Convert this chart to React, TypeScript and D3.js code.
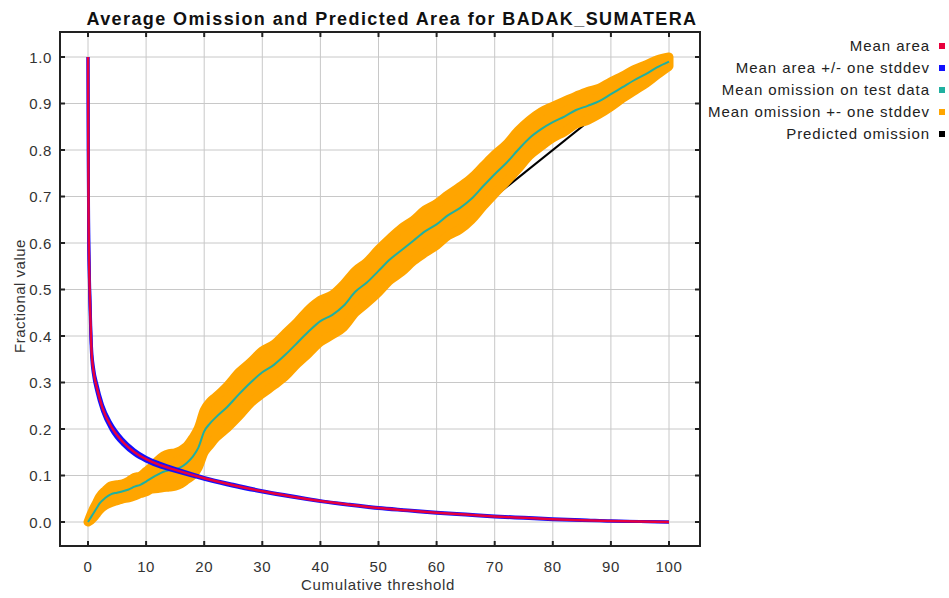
import * as d3 from "d3";

const title = "Average Omission and Predicted Area for BADAK_SUMATERA";

// mean fractional predicted area vs cumulative threshold
const areaThresholds = [0, 0.05, 0.1, 0.2, 0.35, 0.6, 1, 1.5, 2.5, 4, 6, 8, 10, 12.5, 15, 20, 25, 30, 35, 40, 45, 50, 55, 60, 65, 70, 75, 80, 85, 90, 95, 100];
const areaMean = [1.0, 0.8, 0.65, 0.55, 0.47, 0.37, 0.32, 0.29, 0.245, 0.205, 0.172, 0.15, 0.135, 0.122, 0.112, 0.094, 0.079, 0.066, 0.055, 0.045, 0.037, 0.03, 0.025, 0.02, 0.016, 0.012, 0.009, 0.006, 0.004, 0.002, 0.001, 0];
const areaSd = [0, 0.004, 0.006, 0.008, 0.009, 0.009, 0.008, 0.008, 0.007, 0.007, 0.006, 0.005, 0.004, 0.004, 0.003, 0.002, 0.002, 0.0015, 0.0015, 0.001, 0.001, 0.001, 0.001, 0.001, 0.001, 0.001, 0.001, 0.001, 0.001, 0, 0, 0];

// mean omission on test data
const omissionThresholds = [0, 0.5, 1, 1.5, 2, 3, 4, 5, 6, 7, 8, 9, 10, 11, 12, 13, 14, 15, 16, 17, 18, 19, 20, 21, 22, 24, 26, 28, 30, 32, 34, 36, 38, 40, 42, 44, 46, 48, 50, 52, 54, 56, 58, 60, 62, 64, 66, 68, 70, 72, 74, 76, 78, 80, 82, 84, 86, 88, 90, 92, 94, 96, 98, 100];
const omissionMean = [0, 0.01, 0.02, 0.03, 0.04, 0.052, 0.06, 0.063, 0.066, 0.07, 0.076, 0.08, 0.087, 0.095, 0.102, 0.108, 0.111, 0.113, 0.118, 0.127, 0.14, 0.16, 0.195, 0.212, 0.225, 0.248, 0.275, 0.3, 0.322, 0.338, 0.36, 0.385, 0.41, 0.432, 0.445, 0.465, 0.495, 0.515, 0.54, 0.565, 0.585, 0.605, 0.625, 0.64, 0.66, 0.675, 0.695, 0.722, 0.748, 0.772, 0.8, 0.826, 0.845, 0.86, 0.872, 0.886, 0.895, 0.905, 0.92, 0.935, 0.95, 0.963, 0.978, 0.99];
const omissionSd = [0, 0.006, 0.01, 0.012, 0.014, 0.016, 0.018, 0.017, 0.016, 0.018, 0.02, 0.019, 0.022, 0.024, 0.03, 0.034, 0.036, 0.036, 0.036, 0.036, 0.04, 0.042, 0.045, 0.046, 0.044, 0.045, 0.047, 0.044, 0.046, 0.044, 0.046, 0.045, 0.047, 0.045, 0.043, 0.046, 0.045, 0.044, 0.046, 0.045, 0.047, 0.044, 0.046, 0.045, 0.044, 0.046, 0.045, 0.043, 0.042, 0.04, 0.041, 0.038, 0.037, 0.034, 0.033, 0.03, 0.031, 0.028, 0.027, 0.024, 0.023, 0.02, 0.016, 0.01];

const predictedX = [0, 100];
const predictedY = [0, 1];

const xTicks = [0, 10, 20, 30, 40, 50, 60, 70, 80, 90, 100];
const yTicks = [0, 0.1, 0.2, 0.3, 0.4, 0.5, 0.6, 0.7, 0.8, 0.9, 1.0];

const legendLabels = ["Mean area", "Mean area +/- one stddev", "Mean omission on test data", "Mean omission +- one stddev", "Predicted omission"];
const legendColors = ["#e8003c", "#1010ff", "#20b0a0", "#ffa500", "#000000"];

const font = "'Liberation Sans', Arial, sans-serif";

const App = () => {
  const left = 60, right = 700, top = 32, bottom = 546;

  const x = d3.scaleLinear().domain([0, 100]).range([88, 669]);
  const y = d3.scaleLinear().domain([0, 1]).range([522, 57]);

  const area = areaThresholds.map((t, i) => ({ t, m: areaMean[i], s: areaSd[i] }));
  const omission = omissionThresholds.map((t, i) => ({ t, m: omissionMean[i], s: omissionSd[i] }));
  const predicted = predictedX.map((t, i) => ({ t, m: predictedY[i] }));

  const line = d3.line<any>().x((d) => x(d.t)).y((d) => y(d.m)).curve(d3.curveMonotoneX);
  const upper = d3.line<any>().x((d) => x(d.t)).y((d) => y(d.m + d.s)).curve(d3.curveMonotoneX);
  const lower = d3.line<any>().x((d) => x(d.t)).y((d) => y(Math.max(0, d.m - d.s))).curve(d3.curveMonotoneX);
  const band = d3.area<any>()
    .x((d) => x(d.t))
    .y0((d) => y(d.m - d.s))
    .y1((d) => y(d.m + d.s))
    .curve(d3.curveMonotoneX);

  return (
    <svg width={949} height={598} style={{ position: "absolute", left: 0, top: 0, background: "#fff" }} fontFamily={font}>
      <rect x={0} y={0} width={949} height={598} fill="#fff" />

      {/* grid */}
      {xTicks.map((t) => (
        <line key={"gx" + t} x1={x(t)} x2={x(t)} y1={top} y2={bottom} stroke="#c8c8c8" strokeWidth={1} />
      ))}
      {yTicks.map((t) => (
        <line key={"gy" + t} x1={left} x2={right} y1={y(t)} y2={y(t)} stroke="#c8c8c8" strokeWidth={1} />
      ))}

      {/* predicted omission */}
      <path d={line(predicted) || ""} fill="none" stroke="#000" strokeWidth={2} />

      {/* omission band */}
      <path d={band(omission) || ""} fill="#ffa500" stroke="#ffa500" strokeWidth={9} strokeLinejoin="round" />
      <path d={line(omission) || ""} fill="none" stroke="#20b0a0" strokeWidth={2} />

      {/* area */}
      <path d={upper(area) || ""} fill="none" stroke="#1010ff" strokeWidth={3} />
      <path d={lower(area) || ""} fill="none" stroke="#1010ff" strokeWidth={3} />
      <path d={line(area) || ""} fill="none" stroke="#e8003c" strokeWidth={2.5} />

      {/* frame */}
      <rect x={left} y={top} width={right - left} height={bottom - top} fill="none" stroke="#222" strokeWidth={2} />

      {/* ticks */}
      {xTicks.map((t) => (
        <g key={"tx" + t}>
          <line x1={x(t)} x2={x(t)} y1={bottom} y2={bottom - 5} stroke="#222" strokeWidth={2} />
          <line x1={x(t)} x2={x(t)} y1={top} y2={top + 5} stroke="#222" strokeWidth={2} />
          <text x={x(t)} y={572} textAnchor="middle" fontSize={15} fill="#333" letterSpacing={0.6}>{t}</text>
        </g>
      ))}
      {yTicks.map((t) => (
        <g key={"ty" + t}>
          <line x1={left} x2={left + 5} y1={y(t)} y2={y(t)} stroke="#222" strokeWidth={2} />
          <line x1={right} x2={right - 5} y1={y(t)} y2={y(t)} stroke="#222" strokeWidth={2} />
          <text x={52} y={y(t) + 5.5} textAnchor="end" fontSize={15} fill="#333" letterSpacing={0.6}>{d3.format(".1f")(t)}</text>
        </g>
      ))}

      {/* axis titles */}
      <text x={378} y={590} textAnchor="middle" fontSize={15} fill="#333" letterSpacing={0.65}>Cumulative threshold</text>
      <text transform={`translate(25,296) rotate(-90)`} textAnchor="middle" fontSize={15} fill="#333" letterSpacing={0.5}>Fractional value</text>

      {/* title */}
      <text x={392} y={25} textAnchor="middle" fontSize={18} fontWeight="bold" fill="#111" letterSpacing={1.4}>{title}</text>

      {/* legend */}
      {legendLabels.map((label, i) => (
        <g key={label}>
          <text x={930} y={46 + i * 22 + 5} textAnchor="end" fontSize={15} fill="#222" letterSpacing={0.95}>{label}</text>
          <rect x={939} y={43 + i * 22} width={6} height={6} fill={legendColors[i]} />
        </g>
      ))}
    </svg>
  );
};

export default App;
